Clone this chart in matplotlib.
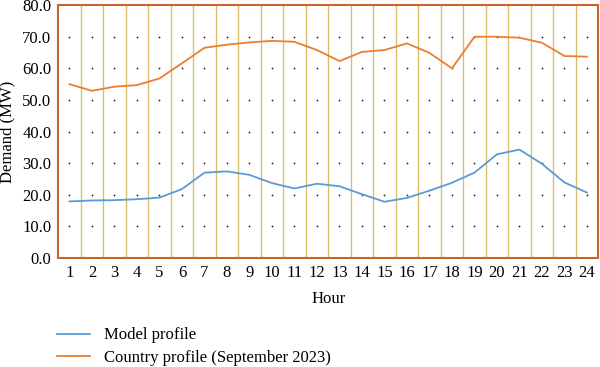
import matplotlib
matplotlib.use('Agg')
import matplotlib.pyplot as plt
import numpy as np

# hourly demand profiles (MW)
hours = list(range(1, 25))
model_profile = [17.9, 18.2, 18.3, 18.6, 19.1, 21.8, 27.0, 27.4, 26.3, 23.7, 22.0, 23.5,
                 22.7, 20.2, 17.8, 19.0, 21.3, 23.8, 27.0, 32.8, 34.3, 29.8, 23.9, 20.7]
country_profile = [55.0, 52.9, 54.2, 54.7, 56.8, 61.6, 66.5, 67.5, 68.2, 68.7, 68.4, 65.8,
                   62.3, 65.2, 65.8, 67.9, 64.9, 60.0, 70.0, 70.0, 69.7, 68.1, 63.9, 63.7]
y_ticks = np.arange(0, 81, 10)

plt.rcParams['font.family'] = 'Liberation Serif'

fig = plt.figure(figsize=(6.0, 3.67), dpi=100)
ax = fig.add_axes([0.097, 0.297, 0.9, 0.689])

# vertical separators between hours
for h in hours[:-1]:
    ax.axvline(h + 0.5, color='#D9BD6A', lw=1.0, zorder=1)

# dotted horizontal gridlines, one dot per hour
for v in y_ticks[1:-1]:
    ax.plot(hours, np.full(len(hours), v), ls='none', marker='o', ms=1.3,
            mec='none', mfc='#222222', zorder=1)

ax.plot(hours, model_profile, color='#5B9BD5', lw=1.3, label='Model profile', zorder=3)
ax.plot(hours, country_profile, color='#ED7D31', lw=1.3,
        label='Country profile (September 2023)', zorder=3)

ax.set_xlim(0.5, 24.5)
ax.set_ylim(0, 80)
ax.set_xticks(hours)
ax.set_yticks(y_ticks)
ax.set_yticklabels([f'{v:.1f}' for v in y_ticks])
ax.tick_params(length=0, labelsize=12, pad=5)
for s in ax.spines.values():
    s.set_color('#C8642A')
    s.set_linewidth(1.5)

ax.set_xlabel('Hour', fontsize=12, labelpad=7)
ax.set_ylabel('Demand (MW)', fontsize=12, labelpad=5)

ax.legend(loc='upper left', bbox_to_anchor=(-0.03, -0.215), frameon=False,
          fontsize=12, handlelength=2.0, handletextpad=0.85, labelspacing=0.4)

fig.savefig('out.png', dpi=100)
